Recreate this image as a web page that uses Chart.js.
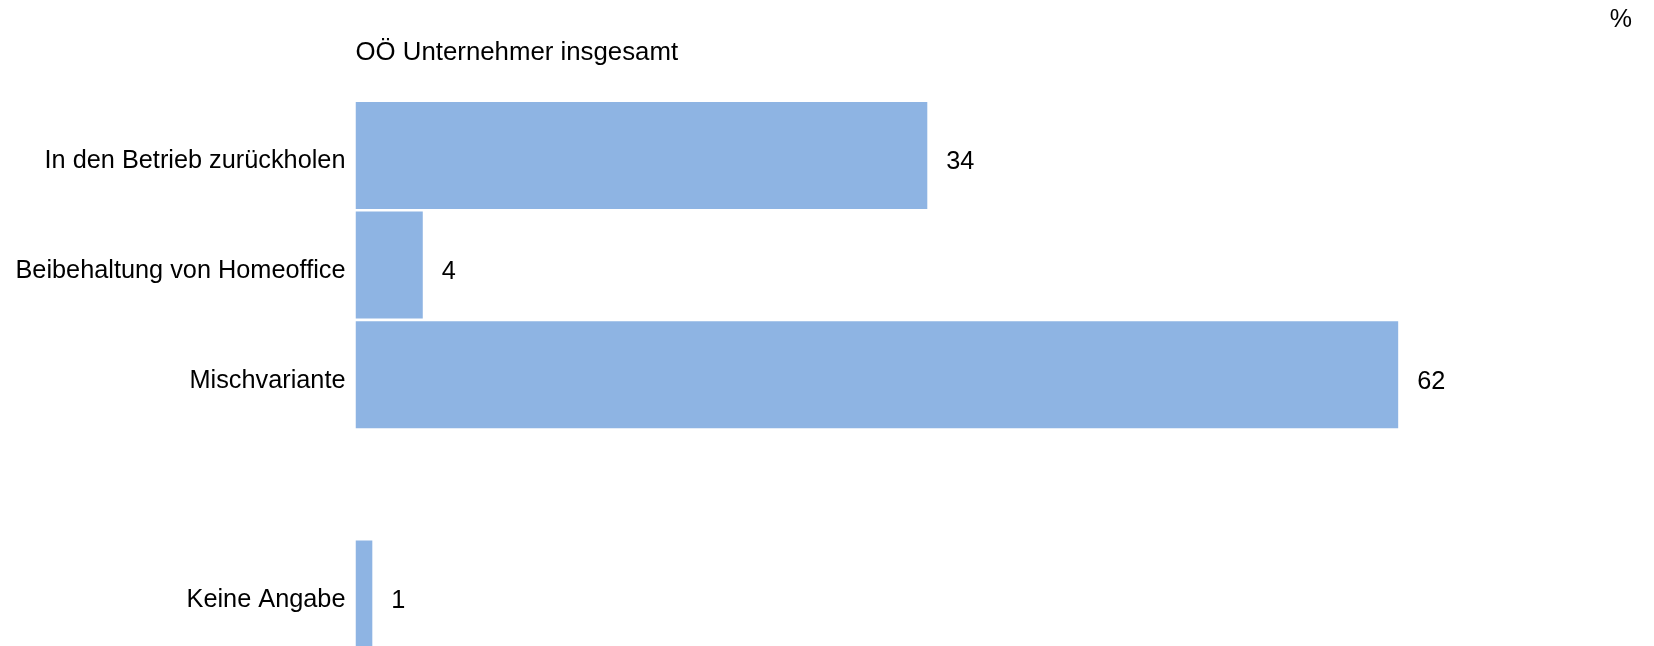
<!DOCTYPE html>
<html>
<head>
<meta charset="utf-8">
<script src="https://cdn.jsdelivr.net/npm/chart.js@4/dist/chart.umd.min.js"></script>
<style>
  html, body { margin: 0; padding: 0; background: #ffffff; overflow: hidden; }
  #wrap { width: 1654px; height: 646px; overflow: hidden; position: relative; }
  canvas { display: block; }
</style>
</head>
<body>
<div id="wrap"><canvas id="c" width="1654" height="652"></canvas></div>
<script>
const categories = ["In den Betrieb zurückholen", "Beibehaltung von Homeoffice", "Mischvariante", "", "Keine Angabe"];
const values = [34, 4, 62, null, 1];
const valueLabels = ["34", "4", "62", "", "1"];
const titleText = "OÖ Unternehmer insgesamt";
const unitText = "%";

const FONT = "'Liberation Sans', Arial, Helvetica, sans-serif";
const BAR_COLOR = "#8EB4E3";

const annotate = {
  id: "annotate",
  afterDatasetsDraw(chart) {
    const ctx = chart.ctx;
    const area = chart.chartArea;
    ctx.save();
    ctx.fillStyle = "#000000";
    // title
    ctx.font = "25.8px " + FONT;
    ctx.textAlign = "left";
    ctx.textBaseline = "alphabetic";
    ctx.fillText(titleText, area.left, 60);
    // unit
    ctx.font = "25px " + FONT;
    ctx.textAlign = "right";
    ctx.fillText(unitText, 1632, 27);
    // value labels
    ctx.font = "25.3px " + FONT;
    const meta = chart.getDatasetMeta(0);
    ctx.textAlign = "left";
    ctx.textBaseline = "middle";
    meta.data.forEach((bar, i) => {
      if (values[i] === null || values[i] === undefined) return;
      ctx.fillText(valueLabels[i], bar.x + 19, bar.y + 7);
    });
    ctx.restore();
  }
};

new Chart(document.getElementById("c"), {
  type: "bar",
  data: {
    labels: categories,
    datasets: [{
      data: values,
      backgroundColor: BAR_COLOR,
      borderWidth: 0,
      barPercentage: 0.976,
      categoryPercentage: 1.0
    }]
  },
  options: {
    indexAxis: "y",
    responsive: false,
    animation: false,
    events: [],
    layout: { padding: { top: 100.7, right: 54, bottom: 3.3, left: 0 } },
    plugins: {
      legend: { display: false },
      tooltip: { enabled: false },
      title: { display: false }
    },
    scales: {
      x: {
        display: false,
        min: 0,
        max: 74
      },
      y: {
        grid: { display: false, drawTicks: false },
        border: { display: false },
        ticks: {
          color: "#000000",
          padding: 10,
          font: { family: FONT, size: 25.3, lineHeight: "12px" },
          callback(value, index) {
            // empty first line nudges the label slightly down, as in the reference
            return ["", categories[index]];
          }
        },
        afterFit(scale) {
          scale.width = 355.5;
          scale.paddingTop = 0;
          scale.paddingBottom = 0;
        }
      }
    }
  },
  plugins: [annotate]
});
</script>
</body>
</html>
